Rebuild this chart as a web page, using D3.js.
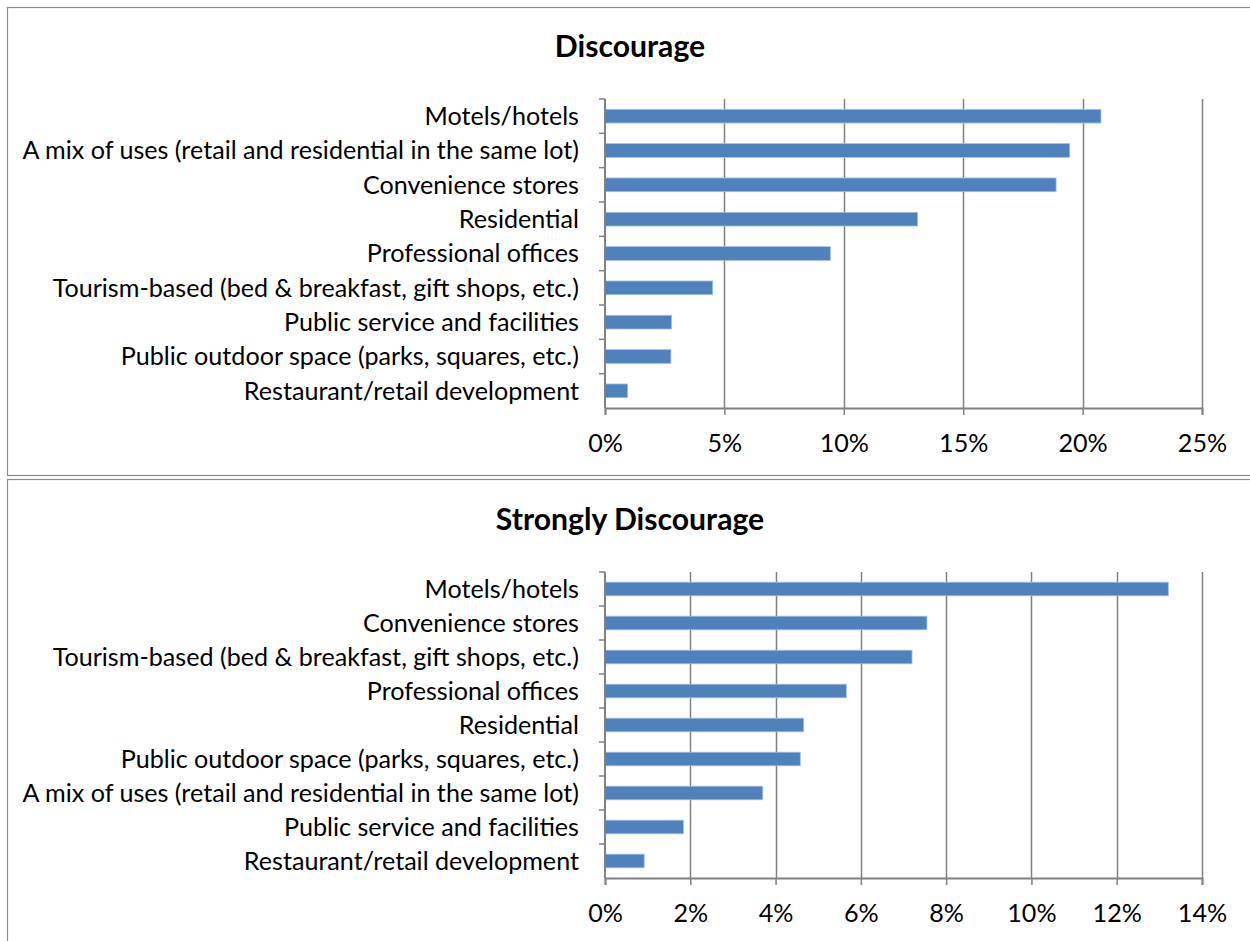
<!DOCTYPE html>
<html>
<head>
<meta charset="utf-8">
<script src="https://cdnjs.cloudflare.com/ajax/libs/d3/7.8.5/d3.min.js"></script>
<style>
  html, body { margin: 0; padding: 0; background: #fff; }
  svg { display: block; }
  text { font-family: Lato, "Open Sans", sans-serif; fill: #000; }
</style>
</head>
<body>
<svg id="chart" width="1250" height="941"></svg>
<script>
// ---- Data ----
const titleTop = "Discourage";
const categoriesTop = [
  "Motels/hotels",
  "A mix of uses (retail and residential in the same lot)",
  "Convenience stores",
  "Residential",
  "Professional offices",
  "Tourism-based (bed & breakfast, gift shops, etc.)",
  "Public service and facilities",
  "Public outdoor space (parks, squares, etc.)",
  "Restaurant/retail development"
];
const valuesTop = [20.77, 19.46, 18.89, 13.09, 9.44, 4.51, 2.79, 2.76, 0.95];
const ticksTop = [0, 5, 10, 15, 20, 25];

const titleBottom = "Strongly Discourage";
const categoriesBottom = [
  "Motels/hotels",
  "Convenience stores",
  "Tourism-based (bed & breakfast, gift shops, etc.)",
  "Professional offices",
  "Residential",
  "Public outdoor space (parks, squares, etc.)",
  "A mix of uses (retail and residential in the same lot)",
  "Public service and facilities",
  "Restaurant/retail development"
];
const valuesBottom = [13.21, 7.55, 7.20, 5.66, 4.66, 4.58, 3.70, 1.84, 0.92];
const ticksBottom = [0, 2, 4, 6, 8, 10, 12, 14];

// ---- Drawing ----
const svg = d3.select("#chart");
const gridColor = "#808080";
const barColor = "#4F81BD";

// Measure font size so the longest label spans the reference width
const probe = svg.append("text").attr("font-size", 20)
  .text("A mix of uses (retail and residential in the same lot)");
const w20 = probe.node().getComputedTextLength();
probe.remove();
const labelSize = 20 * 557 / w20;

function drawChart(cfg) {
  const g = svg.append("g");
  // frame
  g.append("rect")
    .attr("x", cfg.frame[0] + 0.5).attr("y", cfg.frame[1] + 0.5)
    .attr("width", cfg.frame[2]).attr("height", cfg.frame[3])
    .attr("fill", "#fff").attr("stroke", "#8a8a8a").attr("stroke-width", 1.2);

  const x = d3.scaleLinear().domain([0, cfg.max]).range([605, 1202]);
  const y = d3.scaleBand().domain(cfg.categories).range([cfg.top, cfg.bottom]).paddingInner(0.6).paddingOuter(0.3);
  const yOuter = d3.scaleBand().domain(cfg.categories).range([cfg.top, cfg.bottom]);

  // gridlines
  g.append("g").selectAll("line").data(cfg.ticks.slice(1)).join("line")
    .attr("x1", d => Math.round(x(d)) + 0.5).attr("x2", d => Math.round(x(d)) + 0.5)
    .attr("y1", cfg.top).attr("y2", cfg.bottom)
    .attr("stroke", gridColor).attr("stroke-width", 1.5);

  // bars
  g.append("g").selectAll("rect").data(cfg.values).join("rect")
    .attr("x", x(0))
    .attr("y", (d, i) => y(cfg.categories[i]))
    .attr("width", d => x(d) - x(0))
    .attr("height", y.bandwidth())
    .attr("fill", barColor)
    .attr("stroke", "#a9c0df").attr("stroke-width", 0.8);

  // x axis
  const xAxis = d3.axisBottom(x).tickValues(cfg.ticks).tickFormat(d => d + "%").tickSize(7).tickPadding(19);
  const xa = g.append("g").attr("transform", `translate(0,${cfg.bottom})`).call(xAxis);
  xa.select(".domain").attr("stroke", gridColor).attr("stroke-width", 2);
  xa.selectAll(".tick line").attr("stroke", gridColor).attr("stroke-width", 1.5);
  xa.selectAll("text").attr("font-size", labelSize).attr("font-family", "Lato, 'Open Sans', sans-serif").attr("fill", "#000");

  // y axis line + category ticks at band boundaries
  g.append("line").attr("x1", x(0)).attr("x2", x(0)).attr("y1", cfg.top).attr("y2", cfg.bottom)
    .attr("stroke", gridColor).attr("stroke-width", 2);
  const bounds = cfg.categories.map(c => yOuter(c));
  g.append("g").selectAll("line").data(bounds).join("line")
    .attr("x1", x(0) - 6).attr("x2", x(0))
    .attr("y1", d => d).attr("y2", d => d)
    .attr("stroke", gridColor).attr("stroke-width", 1.5);

  // category labels
  g.append("g").selectAll("text").data(cfg.categories).join("text")
    .attr("x", 579)
    .attr("y", d => yOuter(d) + yOuter.bandwidth() / 2)
    .attr("dy", "0.35em")
    .attr("text-anchor", "end")
    .attr("font-size", labelSize)
    .text(d => d);

  // title
  g.append("text")
    .attr("x", 630).attr("y", cfg.titleY)
    .attr("text-anchor", "middle")
    .attr("font-size", labelSize * 1.2)
    .attr("font-weight", "bold")
    .text(cfg.title);
}

drawChart({
  frame: [7, 7, 1260, 468],
  title: titleTop, titleY: 57,
  categories: categoriesTop, values: valuesTop, ticks: ticksTop, max: 25,
  top: 99, bottom: 408
});

drawChart({
  frame: [7, 479, 1260, 480],
  title: titleBottom, titleY: 530,
  categories: categoriesBottom, values: valuesBottom, ticks: ticksBottom, max: 14,
  top: 572, bottom: 878
});
</script>
</body>
</html>
